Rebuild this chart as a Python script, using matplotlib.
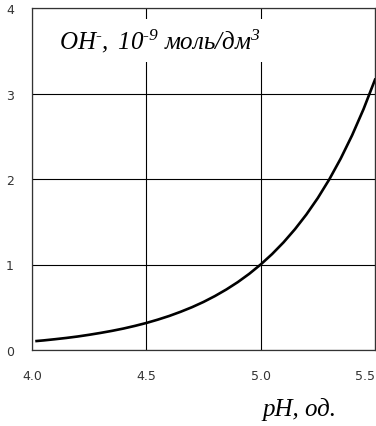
import matplotlib
matplotlib.use("Agg")
import matplotlib.pyplot as plt

# values
ph = [4.02, 4.05, 4.10, 4.15, 4.20, 4.25, 4.30, 4.35, 4.40, 4.45, 4.50,
      4.55, 4.60, 4.65, 4.70, 4.75, 4.80, 4.85, 4.90, 4.95, 5.00,
      5.05, 5.10, 5.15, 5.20, 5.25, 5.30, 5.35, 5.40, 5.45, 5.50]
oh = [0.105, 0.112, 0.126, 0.141, 0.158, 0.178, 0.200, 0.224, 0.251, 0.282, 0.316,
      0.355, 0.398, 0.447, 0.501, 0.562, 0.631, 0.708, 0.794, 0.891, 1.000,
      1.122, 1.259, 1.413, 1.585, 1.778, 1.995, 2.239, 2.512, 2.818, 3.162]
xticks = [4.0, 4.5, 5.0, 5.5]
xlabels = ["4.0", "4.5", "5.0", "5.5"]
yticks = [0, 1, 2, 3, 4]

plt.rcParams["mathtext.fontset"] = "custom"
plt.rcParams["mathtext.rm"] = "Liberation Serif:italic"
plt.rcParams["mathtext.it"] = "Liberation Serif:italic"

tick_font = ["Liberation Sans Narrow", "DejaVu Sans"]
serif = ["Liberation Serif", "DejaVu Serif"]

fig = plt.figure(figsize=(3.76, 4.27), dpi=100)
ax = fig.add_axes([32/376, 76/427, 343/376, 342/427])

ax.plot(ph, oh, color="black", lw=1.9, zorder=3)

ax.set_xlim(4.0, 5.5)
ax.set_ylim(0, 4)
ax.set_xticks(xticks)
ax.set_xticklabels(xlabels)
ax.set_yticks(yticks)
ax.grid(True, color="black", lw=0.8)
ax.tick_params(length=0, pad=14, labelsize=9)
ax.tick_params(axis="y", pad=13)
for lab in ax.get_xticklabels() + ax.get_yticklabels():
    lab.set_family(tick_font)
    lab.set_color("#333333")
ax.get_xticklabels()[-1].set_horizontalalignment("right")
for s in ax.spines.values():
    s.set_color("#333333")
    s.set_linewidth(0.9)

ax.text(0.08, 0.905,
        r"$\mathrm{OH}^{\text{-}}\mathrm{,\ 10}^{\text{-9}}\mathrm{\ моль/дм}^{3}$",
        transform=ax.transAxes, ha="left", va="center",
        fontsize=18, zorder=4,
        bbox=dict(facecolor="white", edgecolor="none", pad=6))

fig.text(262/376, 1 - 410/427, "pH, од.", family=serif, style="italic",
         fontsize=18, ha="left", va="center")

fig.savefig("out.png", dpi=100)
